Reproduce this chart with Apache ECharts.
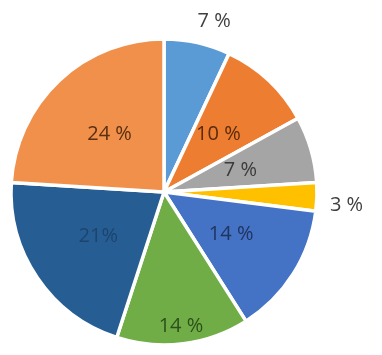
<!DOCTYPE html>
<html>
<head>
<meta charset="utf-8">
<script src="https://cdn.jsdelivr.net/npm/echarts@6/dist/echarts.min.js"></script>
<style>html,body{margin:0;padding:0;background:#fff}#c{width:382px;height:355px}</style>
</head>
<body>
<div id="c"></div>
<script>
const values = [7, 10, 7, 3, 14, 14, 21, 24];
const labels = ['7 %', '10 %', '7 %', '3 %', '14 %', '14 %', '21%', '24 %'];
const colors = ['#5B9BD5', '#ED7D31', '#A5A5A5', '#FFC000', '#4472C4', '#70AD47', '#265E93', '#F0904B'];
const labelColors = ['#404040', '#5a2a0a', '#3a3a3a', '#404040', '#1f3560', '#2c501a', '#1d4470', '#5a2e10'];
const outside = [true, false, false, true, false, false, false, false];

const data = values.map((v, i) => ({
  value: v,
  name: labels[i],
  itemStyle: { color: colors[i] },
  label: {
    position: outside[i] ? 'outside' : 'inside',
    color: labelColors[i],
    distanceToLabelLine: 0
  },
  labelLine: { show: false, length: i === 0 ? 24 : 12, length2: 0 }
}));

const chart = echarts.init(document.getElementById('c'), null, { renderer: 'canvas' });
chart.setOption({
  animation: false,
  series: [{
    type: 'pie',
    center: [164, 192],
    radius: [0, 153],
    startAngle: 90,
    clockwise: true,
    avoidLabelOverlap: false,
    itemStyle: { borderColor: '#fff', borderWidth: 3.5 },
    label: {
      formatter: p => p.name,
      fontFamily: 'Open Sans',
      fontSize: 20,
      alignTo: 'none'
    },
    labelLayout: p => {
      if (p.dataIndex === 5) return { dx: 7, dy: 55 };
      if (p.dataIndex === 0) return { dx: -5, dy: 2 };
      if (p.dataIndex === 3) return { dx: 1, dy: 8 };
      return {};
    },
    data: data
  }]
});
</script>
</body>
</html>
